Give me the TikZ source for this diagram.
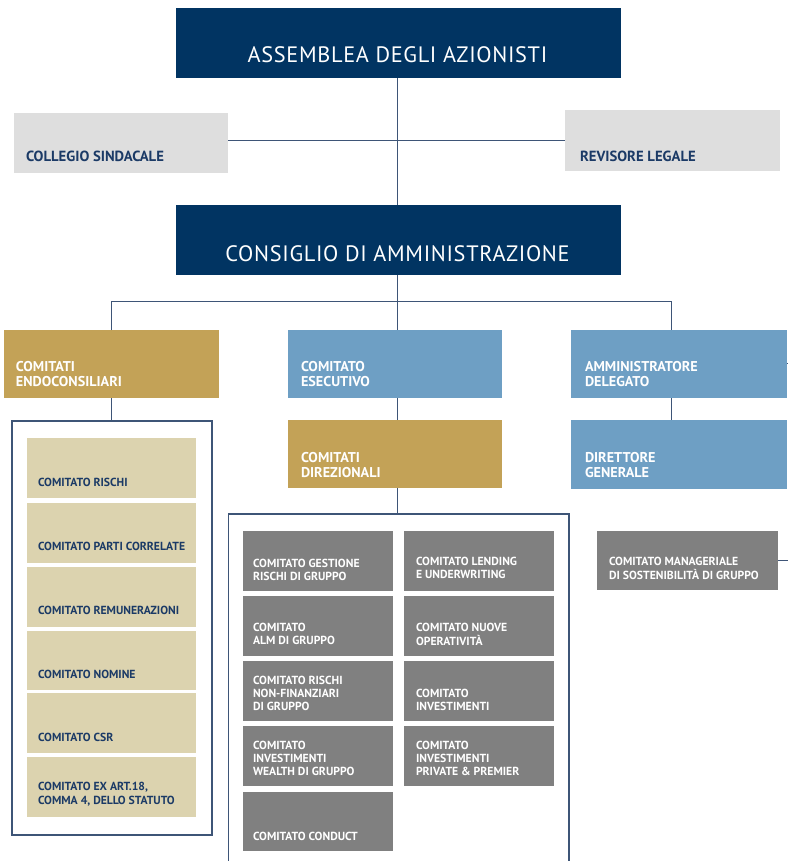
\documentclass[tikz,border=0pt]{standalone}
\usepackage{fontspec}
\setmainfont{PT Sans}
\newfontfamily\titlefont[LetterSpace=3]{PT Sans}
\definecolor{navy}{RGB}{1,52,98}
\definecolor{navytext}{RGB}{27,58,102}
\definecolor{lgrey}{RGB}{222,222,222}
\definecolor{gold}{RGB}{195,162,87}
\definecolor{sky}{RGB}{110,159,196}
\definecolor{beige}{RGB}{220,211,175}
\definecolor{dgrey}{RGB}{128,128,128}
\definecolor{linec}{RGB}{62,85,119}
\tikzset{
  bx/.style={draw=none, inner sep=0pt, outer sep=0pt, anchor=north west},
  navybox/.style={bx, fill=navy},
  greybox/.style={bx, fill=lgrey},
  goldbox/.style={bx, fill=gold},
  skybox/.style={bx, fill=sky},
  beigebox/.style={bx, fill=beige},
  darkbox/.style={bx, fill=dgrey},
  lbl/.style={inner sep=0pt, outer sep=0pt, anchor=base west, align=left},
  titlelbl/.style={inner sep=0pt, anchor=base, text=white, font=\titlefont\fontsize{22.3}{24}\selectfont},
  biglbl/.style={lbl, text=white, font=\bfseries\fontsize{14.2}{15}\selectfont},
  toplbl/.style={lbl, text=navytext, font=\bfseries\fontsize{14.7}{15}\selectfont},
  smallnavy/.style={lbl, text=navytext, font=\bfseries\fontsize{11.7}{14}\selectfont},
  smallwhite/.style={lbl, text=white, font=\bfseries\fontsize{11.7}{13}\selectfont},
  mgrlbl/.style={lbl, text=white, font=\bfseries\fontsize{11.7}{14}\selectfont},
  conn/.style={draw=linec, line width=1pt},
  frame/.style={draw=linec, line width=1.3pt}
}
% box: name, style, x1, y1, x2, y2
\newcommand{\mybox}[6]{\node[#2, minimum width={(#5-#3)*1pt}, minimum height={(#6-#4)*1pt}] (#1) at (#3,#4) {};}
% label: name, style, x, baseline y, text
\newcommand{\mylab}[5]{\node[#2] (#1) at (#3,#4) {\begin{tabular}[t]{@{}l@{}}#5\end{tabular}};}
\begin{document}
\begin{tikzpicture}[x=1pt,y=-1pt]
\useasboundingbox[fill=white] (0,0) rectangle (788,861);

% top level
\mybox{assemblea}{navybox}{175.5}{8}{621}{78}
\node[titlelbl] (assemblea-t) at (397.5,63) {ASSEMBLEA DEGLI AZIONISTI};
\mybox{collegio}{greybox}{14}{113}{228}{173}
\mylab{collegio-t}{toplbl}{26}{162}{COLLEGIO SINDACALE}
\mybox{revisore}{greybox}{565}{110}{780}{171}
\mylab{revisore-t}{toplbl}{580}{161}{REVISORE LEGALE}
\mybox{consiglio}{navybox}{175.5}{205}{621}{275}
\node[titlelbl] (consiglio-t) at (397.5,261) {CONSIGLIO DI AMMINISTRAZIONE};

% second level
\mybox{endo}{goldbox}{4}{330}{219}{398}
\mylab{endo-t}{biglbl}{16}{371}{COMITATI\\ENDOCONSILIARI}
\mybox{esecutivo}{skybox}{288}{330}{502}{398}
\mylab{esecutivo-t}{biglbl}{301}{371}{COMITATO\\ESECUTIVO}
\mybox{ad}{skybox}{571}{330}{787}{398}
\mylab{ad-t}{biglbl}{585}{371}{AMMINISTRATORE\\DELEGATO}
\mybox{direzionali}{goldbox}{288}{420}{502}{488}
\mylab{direzionali-t}{biglbl}{301}{462}{COMITATI\\DIREZIONALI}
\mybox{direttore}{skybox}{571}{420}{787}{489}
\mylab{direttore-t}{biglbl}{585}{462}{DIRETTORE\\GENERALE}

% left container
\mybox{leftframe}{bx}{12}{421}{212}{835}
\draw[frame] (leftframe.north west) rectangle (leftframe.south east);
\mybox{rischi}{beigebox}{27}{438}{196}{498}
\mylab{rischi-t}{smallnavy}{38}{486}{COMITATO RISCHI}
\mybox{parti}{beigebox}{27}{503}{196}{563}
\mylab{parti-t}{smallnavy}{38}{550}{COMITATO PARTI CORRELATE}
\mybox{remun}{beigebox}{27}{567}{196}{627}
\mylab{remun-t}{smallnavy}{38}{614}{COMITATO REMUNERAZIONI}
\mybox{nomine}{beigebox}{27}{631}{196}{690}
\mylab{nomine-t}{smallnavy}{38}{678}{COMITATO NOMINE}
\mybox{csr}{beigebox}{27}{693}{196}{753}
\mylab{csr-t}{smallnavy}{38}{741}{COMITATO CSR}
\mybox{exart}{beigebox}{27}{757}{196}{817}
\mylab{exart-t}{smallnavy}{38}{790}{COMITATO EX ART.18,\\COMMA 4, DELLO STATUTO}

% middle container (open at the bottom)
\coordinate (midBL) at (228.5,861);
\coordinate (midTL) at (228.5,514);
\coordinate (midTR) at (569,514);
\coordinate (midBR) at (569,861);
\draw[frame] (midBL) -- (midTL) -- (midTR) -- (midBR);
\mybox{gestione}{darkbox}{243}{531}{393}{591}
\mylab{gestione-t}{smallwhite}{253}{567}{COMITATO GESTIONE\\RISCHI DI GRUPPO}
\mybox{lending}{darkbox}{404}{531}{554}{591}
\mylab{lending-t}{smallwhite}{416}{565}{COMITATO LENDING\\E UNDERWRITING}
\mybox{alm}{darkbox}{243}{596}{393}{656}
\mylab{alm-t}{smallwhite}{253}{631}{COMITATO\\ALM DI GRUPPO}
\mybox{nuove}{darkbox}{404}{596}{554}{656}
\mylab{nuove-t}{smallwhite}{416}{631}{COMITATO NUOVE\\OPERATIVITÀ}
\mybox{nonfin}{darkbox}{243}{661}{393}{721}
\mylab{nonfin-t}{smallwhite}{253}{684}{COMITATO RISCHI\\NON-FINANZIARI\\DI GRUPPO}
\mybox{invest}{darkbox}{404}{661}{554}{721}
\mylab{invest-t}{smallwhite}{416}{697}{COMITATO\\INVESTIMENTI}
\mybox{wealth}{darkbox}{243}{726}{393}{786}
\mylab{wealth-t}{smallwhite}{253}{749}{COMITATO\\INVESTIMENTI\\WEALTH DI GRUPPO}
\mybox{private}{darkbox}{404}{726}{554}{786}
\mylab{private-t}{smallwhite}{416}{749}{COMITATO\\INVESTIMENTI\\PRIVATE \& PREMIER}
\mybox{conduct}{darkbox}{243}{792}{393}{851}
\mylab{conduct-t}{smallwhite}{253}{840}{COMITATO CONDUCT}

% right
\mybox{manageriale}{darkbox}{597}{531}{778}{590}
\mylab{manageriale-t}{mgrlbl}{609}{565}{COMITATO MANAGERIALE\\DI SOSTENIBILITÀ DI GRUPPO}

% connectors
\coordinate (bus) at (397.5,301.5);
\coordinate (adtop) at (671.5,330);
\coordinate (adbot) at (671.5,398);
\coordinate (dirtop) at (671.5,420);
\coordinate (endotop) at (111.5,330);
\coordinate (endobot) at (111.5,398);
\coordinate (leftframetop) at (111.5,421);
\coordinate (adstub) at (788,363.5);
\coordinate (mgrstub) at (788,560.5);
\draw[conn] (assemblea.south -| bus) -- (consiglio.north -| bus);
\draw[conn] (collegio.east |- 0,140.5) -- (revisore.west |- 0,140.5);
\draw[conn] (consiglio.south -| bus) -- (esecutivo.north -| bus);
\draw[conn] (endotop) |- (bus) -| (adtop);
\draw[conn] (esecutivo.south -| bus) -- (direzionali.north -| bus);
\draw[conn] (adbot) -- (dirtop);
\draw[conn] (endobot) -- (leftframetop);
\draw[conn] (direzionali.south -| bus) -- (midTL -| bus);
\draw[conn] (ad.east |- adstub) -- (adstub);
\draw[conn] (manageriale.east |- mgrstub) -- (mgrstub);
\end{tikzpicture}
\end{document}
